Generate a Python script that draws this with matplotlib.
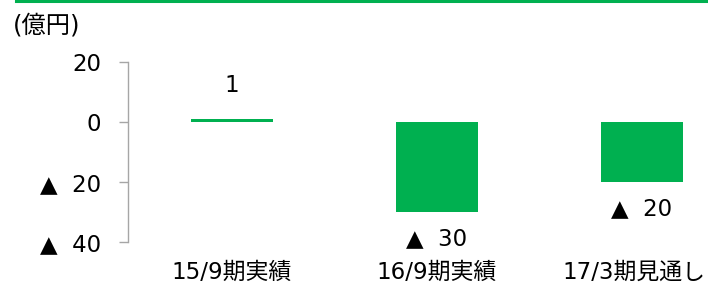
import matplotlib
matplotlib.use("Agg")
import matplotlib.pyplot as plt
import matplotlib.transforms as mtransforms
from matplotlib.ticker import FixedLocator, FuncFormatter
from matplotlib.lines import Line2D

plt.rcParams['font.family'] = ['DejaVu Sans', 'Noto Sans CJK JP']

categories = ["15/9期実績", "16/9期実績", "17/3期見通し"]
values = [1, -30, -20]
yticks = [20, 0, -20, -40]
unit_label = "(億円)"

GREEN = "#00B050"
GREY = "#A6A6A6"
FS = 16.5

fig = plt.figure(figsize=(7.08, 2.86), dpi=100)
W, H = 708, 286
ax = fig.add_axes([128 / W, 44 / H, 580 / W, 180 / H])

x = list(range(len(categories)))
ax.bar(x, values, width=0.4, color=GREEN, zorder=2)

ax.set_ylim(-40, 20)
ax.set_xlim(-0.507, 2.322)

def fmt(v, pos=None):
    v = int(round(v))
    return f"▲  {abs(v)}" if v < 0 else f"{v}"

ax.yaxis.set_major_locator(FixedLocator(yticks))
ax.yaxis.set_major_formatter(FuncFormatter(fmt))
ax.tick_params(axis='y', length=6.5, width=1, color=GREY, pad=13, labelsize=FS)

ax.set_xticks([])
for s in ['top', 'right', 'bottom']:
    ax.spines[s].set_visible(False)
ax.spines['left'].set_color(GREY)
ax.spines['left'].set_linewidth(1)

# category labels below the plot area
trans = mtransforms.blended_transform_factory(ax.transData, ax.transAxes)
cat_texts = [ax.text(xi, -0.167, c, ha='center', va='center', fontsize=FS,
                     transform=trans, clip_on=False)
             for xi, c in zip(x, categories)]

for xi, v in zip(x, values):
    off = 24 if v >= 0 else -19.5
    ax.annotate(fmt(v), (xi, v), xytext=(0, off), textcoords='offset points',
                ha='center', va='center', fontsize=FS)

fig.text(13 / W, 1 - 25 / H, unit_label, ha='left', va='center', fontsize=17.5)
fig.add_artist(Line2D([16 / W, 1], [1 - 1 / H, 1 - 1 / H], transform=fig.transFigure,
                      color=GREEN, linewidth=2.2))

# keep category labels inside the figure (like the original layout)
fig.canvas.draw()
r = fig.canvas.get_renderer()
for t in cat_texts:
    bb = t.get_window_extent(r)
    if bb.x1 > W - 3:
        dx = (W - 3 - bb.x1) / fig.dpi
        t.set_transform(t.get_transform() + mtransforms.ScaledTranslation(dx, 0, fig.dpi_scale_trans))

fig.savefig("out.png", dpi=100)
